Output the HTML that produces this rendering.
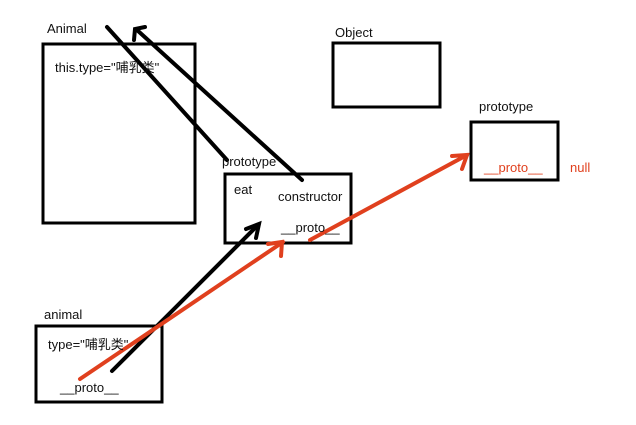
<!DOCTYPE html>
<html><head><meta charset="utf-8"><style>
body{margin:0;background:#fff;width:636px;height:420px;overflow:hidden}
svg text{font-family:"Liberation Sans","Noto Sans CJK SC",sans-serif;font-size:13px;fill:#111}
</style></head><body>
<svg width="636" height="420" viewBox="0 0 636 420">
<g fill="none" stroke="#000" stroke-width="3">
<rect x="43" y="44" width="152" height="179"/>
<rect x="333" y="43" width="107" height="64"/>
<rect x="471" y="122" width="87" height="58"/>
<rect x="225" y="174" width="126" height="69"/>
<rect x="36" y="326" width="126" height="76"/>
</g>
<g stroke="#000" stroke-width="4" fill="none" stroke-linecap="round">
<line x1="107" y1="27" x2="227" y2="160"/>
<line x1="302" y1="180" x2="137" y2="30"/>
<polyline points="134,40 135,29 145,27"/>
<line x1="112" y1="371" x2="258" y2="225"/>
<polyline points="246,229 259,224 256,238"/>
</g>
<g stroke="#e0401e" stroke-width="4" fill="none" stroke-linecap="round">
<line x1="80" y1="379" x2="283" y2="242"/>
<polyline points="268,244 282,242 281,256"/>
<line x1="310" y1="240" x2="467" y2="155"/>
<polyline points="452,156 467,155 462,169"/>
</g>
<text x="47" y="33">Animal</text>
<text x="55" y="72">this.type="哺乳类"</text>
<text x="335" y="37">Object</text>
<text x="479" y="111">prototype</text>
<text x="484" y="172" style="fill:#e0401e">__proto__</text>
<text x="570" y="172" style="fill:#e0401e">null</text>
<text x="222" y="166">prototype</text>
<text x="234" y="194">eat</text>
<text x="278" y="201">constructor</text>
<text x="281" y="232">__proto__</text>
<text x="44" y="319">animal</text>
<text x="48" y="349">type="哺乳类"</text>
<text x="60" y="392">__proto__</text>
</svg>
</body></html>
